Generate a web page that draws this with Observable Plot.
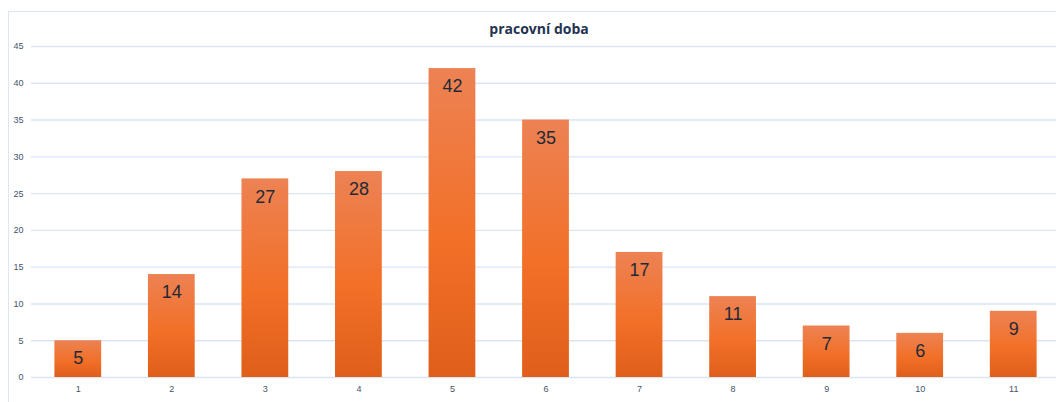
<!DOCTYPE html>
<html>
<head>
<meta charset="utf-8">
<script src="https://cdn.jsdelivr.net/npm/d3@7"></script>
<script src="https://cdn.jsdelivr.net/npm/@observablehq/plot@0.6"></script>
<style>
  html, body { margin: 0; padding: 0; background: #fff; overflow: hidden; }
  #wrap { position: relative; width: 1056px; height: 402px; overflow: hidden; }
  #frame { position: absolute; left: 8px; top: 11px; width: 1100px; height: 500px;
           border: 1.5px solid #dce7f4; box-sizing: border-box; pointer-events: none; }
  #title { position: absolute; left: 0; width: 1078px; top: 19px; text-align: center;
           font: bold 14px "Open Sans", "Liberation Sans", sans-serif; color: #1f3450; }
  #chart { position: absolute; left: 0; top: 0; }
  #chart svg { max-width: none; }
</style>
</head>
<body>
<div id="wrap">
  <div id="frame"></div>
  <div id="chart"></div>
  <div id="title">pracovní doba</div>
</div>
<script>
// Categories and counts for working time
const categories = ["1", "2", "3", "4", "5", "6", "7", "8", "9", "10", "11"];
const counts = [5, 14, 27, 28, 42, 35, 17, 11, 7, 6, 9];
const yTicks = [0, 5, 10, 15, 20, 25, 30, 35, 40, 45];

const data = categories.map((c, i) => ({category: c, count: counts[i]}));

// Vertical gradient applied to each bar
const gradientDefs = () => {
  const defs = d3.create("svg:defs");
  const g = defs.append("linearGradient")
    .attr("id", "barGrad").attr("x1", 0).attr("y1", 0).attr("x2", 0).attr("y2", 1);
  g.append("stop").attr("offset", "0%").attr("stop-color", "#ed8254");
  g.append("stop").attr("offset", "55%").attr("stop-color", "#f27028");
  g.append("stop").attr("offset", "100%").attr("stop-color", "#df5e1a");
  return defs.node();
};

const chart = Plot.plot({
  width: 1060,
  height: 402,
  marginTop: 46,
  marginBottom: 25,
  marginLeft: 31,
  marginRight: 0,
  style: {background: "transparent", fontFamily: "'Liberation Sans', Arial, sans-serif"},
  x: {domain: categories, paddingInner: 0.5, paddingOuter: 0.25, round: false, label: null},
  y: {domain: [0, 45], label: null},
  marks: [
    gradientDefs,
    Plot.ruleY(yTicks, {stroke: "#d9e5f3", strokeWidth: 1.4}),
    Plot.axisY(yTicks, {tickSize: 0, tickPadding: 8, fontSize: 9, fill: "#44546a", label: null}),
    Plot.axisX({tickSize: 0, tickPadding: 8, fontSize: 9, fill: "#44546a", label: null}),
    Plot.barY(data, {x: "category", y: "count", fill: "url(#barGrad)"}),
    Plot.text(data, {x: "category", y: "count", text: d => String(d.count),
      dy: 18, fontSize: 18, fill: "#1f2a38"})
  ]
});
document.getElementById("chart").appendChild(chart);
</script>
</body>
</html>
